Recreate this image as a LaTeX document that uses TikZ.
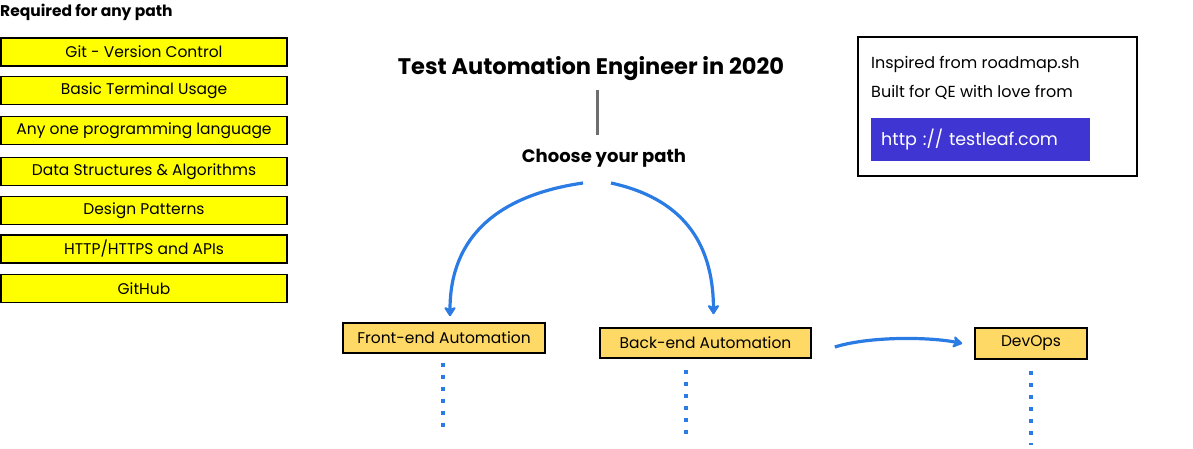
\documentclass[tikz,border=0pt]{standalone}
\usepackage{fontspec}
\setmainfont{Poppins}
\usepackage{tikz}
\usetikzlibrary{positioning,arrows.meta}

\definecolor{skillyellow}{HTML}{FFFF00}
\definecolor{pathorange}{HTML}{FFD966}
\definecolor{forkblue}{HTML}{2B7BE4}
\definecolor{linkblue}{HTML}{3F35D3}
\definecolor{stemgray}{HTML}{6E6E6E}

\begin{document}
\begin{tikzpicture}[x=1pt,y=-1pt,
        skill/.style={draw=black, line width=1.6pt, fill=skillyellow, minimum width=286pt, minimum height=28pt, inner sep=0pt, font=\fontsize{15.5}{18}\selectfont},
        pathbox/.style={draw=black, line width=1.6pt, fill=pathorange, minimum height=30pt, inner sep=0pt, font=\fontsize{15.5}{18}\selectfont},
        fork/.style={draw=forkblue, line width=3.2pt, -{Stealth[length=11pt,width=14pt,inset=3pt,round]}},
        dots/.style={draw=forkblue, line width=3.5pt, dash pattern=on 4pt off 8pt},
        note/.style={anchor=west, inner sep=0pt, font=\fontsize{16}{19}\selectfont}
    ]
    \useasboundingbox (0,0) rectangle (1193,448); % page

    % skills every path needs
    \node[anchor=west, inner sep=0pt, font=\bfseries\fontsize{15.5}{18}\selectfont] (required) at (0,12) {Required for any path};
    \node[skill] (git) at (144,52) {Git - Version Control};
    \node[skill] (terminal) at (144,90.5) {Basic Terminal Usage};
    \node[skill] (language) at (144,130.5) {Any one programming language};
    \node[skill] (dsa) at (144,171.5) {Data Structures \& Algorithms};
    \node[skill] (patterns) at (144,210.5) {Design Patterns};
    \node[skill] (http) at (144,249) {HTTP/HTTPS and APIs};
    \node[skill] (github) at (144,288.5) {GitHub};

    % title and fork
    \node[font=\bfseries\fontsize{22.5}{26}\selectfont] (title) at (591,69) {Test Automation Engineer in 2020};
    \node[font=\bfseries\fontsize{18}{21}\selectfont] (choose) at (604,158.5) {Choose your path};
    \draw[stemgray, line width=3pt] ([xshift=6pt,yshift=-5pt]title.south) -- ([xshift=-7pt,yshift=11pt]choose.north);

    % paths
    \node[pathbox, minimum width=202pt] (front) at (444,338) {Front-end Automation};
    \node[pathbox, minimum width=211pt] (back) at (705.5,343) {Back-end Automation};
    \node[pathbox, minimum width=112pt, minimum height=31pt] (devops) at (1031,343.5) {DevOps};

    \coordinate (leftfork) at (583,183);
    \coordinate (rightfork) at (611,183);
    \draw[fork] (leftfork) .. controls (500,195) and (450,235) .. ([xshift=6pt,yshift=6pt]front.north);
    \draw[fork] (rightfork) .. controls (680,198) and (713,240) .. ([xshift=8pt,yshift=13pt]back.north);
    \draw[fork] ([xshift=23pt,yshift=-4pt]back.east) .. controls (870,336) and (930,337) .. ([xshift=-12pt]devops.west);

    % where each path goes on
    \coordinate (frontmore) at (443,427);
    \coordinate (backmore) at (686,434);
    \coordinate (devopsmore) at (1031,445);
    \draw[dots] ([xshift=-1pt,yshift=-9pt]front.south) -- (frontmore);
    \draw[dots] ([xshift=-19.5pt,yshift=-11pt]back.south) -- (backmore);
    \draw[dots] ([yshift=-11pt]devops.south) -- (devopsmore);

    % credits box
    \node[draw=black, line width=1.6pt, fill=white, minimum width=279pt, minimum height=139pt] (info) at (997.5,106.5) {};
    \node[note] (inspired) at (871,64) {Inspired from roadmap.sh};
    \node[note] (built) at (871,92) {Built for QE with love from};
    \node[anchor=west, fill=linkblue, text=white, text width=199pt, inner xsep=10pt, minimum height=43pt, align=left, font=\fontsize{17.5}{21}\selectfont] (link) at (871,139.5) {http :// testleaf.com};
\end{tikzpicture}
\end{document}
